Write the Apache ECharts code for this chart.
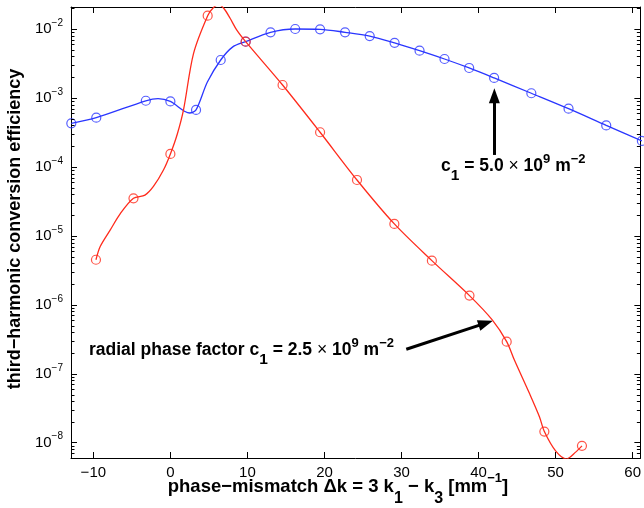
<!DOCTYPE html>
<html>
<head>
<meta charset="utf-8">
<script src="https://cdn.jsdelivr.net/npm/echarts@6/dist/echarts.min.js"></script>
<style>
  html, body { margin: 0; padding: 0; background: #fff; }
  #chart { width: 644px; height: 508px; }
</style>
</head>
<body>
<div id="chart"></div>
<script>
// Third-harmonic conversion efficiency against phase mismatch,
// for two values of the radial phase factor c1.

// c1 = 5.0e9 m^-2 : sampled points (circles)
const c5MarkX = [-12.86, -9.62, -3.19, 0, 3.33, 6.53, 9.77, 13.0, 16.2, 19.43, 22.67,
                 25.87, 29.1, 32.34, 35.58, 38.78, 42.02, 46.85, 51.68, 56.57, 61.2];
const c5MarkY = [4.28e-4, 5.17e-4, 9.1e-4, 8.9e-4, 6.7e-4, 3.55e-3, 6.55e-3, 8.95e-3, 1.0e-2, 9.9e-3, 8.95e-3,
                 7.9e-3, 6.3e-3, 4.85e-3, 3.67e-3, 2.72e-3, 1.95e-3, 1.17e-3, 6.98e-4, 4.0e-4, 2.38e-4];
// c1 = 5.0e9 m^-2 : further points on the fine curve between samples
const c5CurveX = [-1.6, 2.5, 4.8, 8.1];
const c5CurveY = [9.8e-4, 6.05e-4, 1.7e-3, 5.5e-3];

// c1 = 2.5e9 m^-2 : sampled points (circles)
const c25MarkX = [-9.66, -4.79, 0, 4.84, 9.77, 14.56, 19.43, 24.22, 29.07, 33.94, 38.82, 43.65, 48.54, 53.42];
const c25MarkY = [4.5e-6, 3.5e-5, 1.54e-4, 1.56e-2, 6.55e-3, 1.54e-3, 3.18e-4, 6.46e-5, 1.49e-5, 4.37e-6,
                  1.36e-6, 2.92e-7, 1.45e-8, 9.0e-9];
// c1 = 2.5e9 m^-2 : further points on the fine curve between samples
const c25CurveX = [-9.11, -7.8, -6.5, -3.3, -2.2, -0.9, 0.9, 1.7, 3.0, 5.6, 6.3, 7.0, 7.75, 8.6,
                   41.8, 44.65, 46.6, 47.9, 50.0, 51.4, 52.6];
const c25CurveY = [7.0e-6, 1.22e-5, 2.1e-5, 3.9e-5, 5.2e-5, 9.0e-5, 3.0e-4, 6.7e-4, 4.4e-3, 2.05e-2, 2.25e-2,
                   1.95e-2, 1.43e-2, 9.7e-3, 6.0e-7, 1.58e-7, 5.2e-8, 2.38e-8, 7.6e-9, 5.8e-9, 7.3e-9];

// axis ranges
const X_MIN = -12.9, X_MAX = 61;
const Y_MIN = 6.0e-9, Y_MAX = 2.084e-2;

const FONT = '"Liberation Sans", Arial, Helvetica, sans-serif';
const BLUE = '#2a36ff';
const RED = '#ff2b1c';
const INK = '#000';

function pairs(xs, ys) { return xs.map((x, i) => [x, ys[i]]); }
function curve(mx, my, ex, ey) {
  return pairs(mx, my).concat(pairs(ex, ey)).sort((a, b) => a[0] - b[0]);
}

// log-axis minor ticks at 2..9 x 10^k
const minorTicks = [];
for (let k = -9; k <= -2; k++) {
  for (let m = 2; m <= 9; m++) {
    const v = m * Math.pow(10, k);
    if (v > Y_MIN && v < Y_MAX) minorTicks.push([0, v]);
  }
}

const xLabel = v => {
  if (Math.abs(v - Math.round(v / 10) * 10) > 1e-6) return '';
  return v < 0 ? '\u2212' + (-v) : String(v);
};
const yLabel = v => {
  const e = Math.log10(v);
  const r = Math.round(e);
  if (Math.abs(e - r) > 1e-6) return '';
  return '{b|10}{s|' + (r < 0 ? '\u2212' : '') + Math.abs(r) + '}';
};

const tickStyle = { color: INK, width: 1 };

const baseX = {
  type: 'value', min: X_MIN, max: X_MAX, splitNumber: 7,
  axisLine: { show: true, onZero: false, lineStyle: tickStyle },
  axisTick: { show: true, inside: true, length: 6, lineStyle: tickStyle },
  splitLine: { show: false }
};
const baseY = {
  type: 'log', min: Y_MIN, max: Y_MAX, logBase: 10,
  axisLine: { show: true, onZero: false, lineStyle: tickStyle },
  axisTick: { show: true, inside: true, length: 6, lineStyle: tickStyle },
  minorTick: { show: false },
  splitLine: { show: false }
};

const boldRich = {
  t: { fontFamily: FONT, fontSize: 17.5, fontWeight: 'bold', fill: INK },
  sub: { fontFamily: FONT, fontSize: 15.5, fontWeight: 'bold', fill: INK, padding: [20, 0, 0, 0] },
  sup: { fontFamily: FONT, fontSize: 13, fontWeight: 'bold', fill: INK, padding: [0, 0, 14, 0] },
  m: { fontFamily: FONT, fontSize: 17.5, fontWeight: 'normal', fill: INK }
};

const chart = echarts.init(document.getElementById('chart'));
chart.setOption({
  animation: false,
  backgroundColor: '#fff',
  grid: { left: 71, top: 7, width: 570, height: 451, containLabel: false },
  xAxis: [
    Object.assign({}, baseX, {
      position: 'bottom',
      axisLabel: { color: INK, fontFamily: FONT, fontSize: 15, margin: 7, formatter: xLabel }
    }),
    Object.assign({}, baseX, { position: 'top', axisLabel: { show: false } })
  ],
  yAxis: [
    Object.assign({}, baseY, {
      position: 'left',
      axisLabel: {
        color: INK, margin: 8, formatter: yLabel,
        rich: {
          b: { fontFamily: FONT, fontSize: 15, color: INK },
          s: { fontFamily: FONT, fontSize: 10, color: INK, padding: [0, 0, 12, 0] }
        }
      }
    }),
    Object.assign({}, baseY, { position: 'right', axisLabel: { show: false } })
  ],
  series: [
    {
      name: 'c1 = 5.0e9 curve', type: 'line', xAxisIndex: 0, yAxisIndex: 0,
      data: curve(c5MarkX, c5MarkY, c5CurveX, c5CurveY),
      smooth: 0.3, showSymbol: false, clip: true, silent: true, z: 3,
      lineStyle: { color: BLUE, width: 1.3 },
      markLine: {
        silent: true, animation: false,
        symbol: ['none', 'triangle'], symbolSize: [11, 15],
        label: { show: false },
        lineStyle: { color: INK, width: 3, type: 'solid' },
        itemStyle: { color: INK },
        emphasis: { disabled: true },
        data: [
          [{ coord: [42.05, 1.49e-4] }, { coord: [42.05, 1.074e-3] }],
          [{ coord: [30.62, 2.265e-7] }, { coord: [40.93, 5.43e-7] }]
        ]
      }
    },
    {
      name: 'c1 = 5.0e9 samples', type: 'scatter', xAxisIndex: 0, yAxisIndex: 0,
      data: pairs(c5MarkX, c5MarkY), clip: false, silent: true, z: 4,
      symbol: 'circle', symbolSize: 9,
      itemStyle: { color: 'rgba(0,0,0,0)', borderColor: BLUE, borderWidth: 1.2 }
    },
    {
      name: 'c1 = 2.5e9 curve', type: 'line', xAxisIndex: 0, yAxisIndex: 0,
      data: curve(c25MarkX, c25MarkY, c25CurveX, c25CurveY),
      smooth: 0.3, showSymbol: false, clip: true, silent: true, z: 5,
      lineStyle: { color: RED, width: 1.3 }
    },
    {
      name: 'c1 = 2.5e9 samples', type: 'scatter', xAxisIndex: 0, yAxisIndex: 0,
      data: pairs(c25MarkX, c25MarkY), clip: false, silent: true, z: 6,
      symbol: 'circle', symbolSize: 9,
      itemStyle: { color: 'rgba(0,0,0,0)', borderColor: RED, borderWidth: 1.2 }
    },
    {
      name: 'minor ticks', type: 'custom', xAxisIndex: 0, yAxisIndex: 0,
      data: minorTicks, encode: { x: 0, y: 1 }, clip: false, silent: true, z: 7,
      renderItem: (params, api) => {
        const cs = params.coordSys;
        const y = Math.round(api.coord([0, api.value(1)])[1]) + 0.5;
        const L = 3.5;
        const st = { stroke: INK, lineWidth: 1 };
        return {
          type: 'group',
          children: [
            { type: 'line', shape: { x1: cs.x, y1: y, x2: cs.x + L, y2: y }, style: st },
            { type: 'line', shape: { x1: cs.x + cs.width, y1: y, x2: cs.x + cs.width - L, y2: y }, style: st }
          ]
        };
      }
    }
  ],
  graphic: [
    {
      type: 'text', x: 15, y: 229, rotation: Math.PI / 2, silent: true,
      style: {
        text: 'third\u2212harmonic conversion efficiency',
        font: 'bold 18px ' + FONT, fill: INK, align: 'center', verticalAlign: 'middle'
      }
    },
    {
      type: 'text', x: 338, y: 487, silent: true,
      style: {
        text: '{t|phase\u2212mismatch \u0394k = 3 k}{sub|1}{t| \u2212 k}{sub|3}{t| [mm}{sup|\u22121}{t|]}',
        align: 'center', verticalAlign: 'middle',
        rich: {
          t: { fontFamily: FONT, fontSize: 18.5, fontWeight: 'bold', fill: INK },
          sub: { fontFamily: FONT, fontSize: 16, fontWeight: 'bold', fill: INK, padding: [24, 0, 0, 0] },
          sup: { fontFamily: FONT, fontSize: 13, fontWeight: 'bold', fill: INK, padding: [0, 0, 18, 0] }
        }
      }
    },
    {
      type: 'text', x: 441, y: 166, silent: true,
      style: {
        text: '{t|c}{sub|1}{t| = 5.0 }{m|\u00d7}{t| 10}{sup|9}{t| m}{sup|\u22122}',
        align: 'left', verticalAlign: 'middle', rich: boldRich
      }
    },
    {
      type: 'text', x: 89, y: 350, silent: true,
      style: {
        text: '{t|radial phase factor c}{sub|1}{t| = 2.5 }{m|\u00d7}{t| 10}{sup|9}{t| m}{sup|\u22122}',
        align: 'left', verticalAlign: 'middle', rich: boldRich
      }
    }
  ]
});
</script>
</body>
</html>
